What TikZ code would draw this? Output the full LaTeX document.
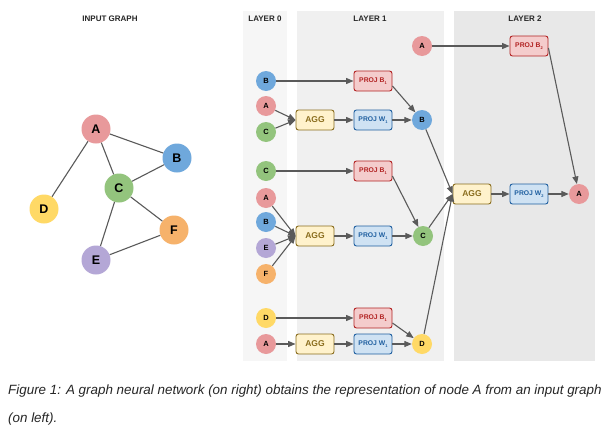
\documentclass[tikz,border=0pt]{standalone}
\usepackage{fontspec}
\setmainfont{Liberation Sans}
\usetikzlibrary{arrows.meta}
\definecolor{cA}{HTML}{E8999B}
\definecolor{cB}{HTML}{6FA8DC}
\definecolor{cC}{HTML}{93C47D}
\definecolor{cD}{HTML}{FFD966}
\definecolor{cE}{HTML}{B4A7D6}
\definecolor{cF}{HTML}{F6B26B}
\definecolor{bgzero}{HTML}{F6F6F6}
\definecolor{bgone}{HTML}{F0F0F0}
\definecolor{bgtwo}{HTML}{E8E8E8}
\definecolor{edgec}{HTML}{5A5A5A}
\definecolor{pbfill}{HTML}{F4CCCC}
\definecolor{pbdraw}{HTML}{B22222}
\definecolor{pwfill}{HTML}{CFE2F3}
\definecolor{pwdraw}{HTML}{1F5FA0}
\definecolor{agfill}{HTML}{FFF2CC}
\definecolor{agdraw}{HTML}{8A6D1E}
\newcommand{\sbx}[1]{\raisebox{-2pt}{\fontsize{4}{4}\selectfont #1}}
\begin{document}
\begin{tikzpicture}[x=1pt,y=-1pt,
  gnode/.style={circle,minimum size=29pt,inner sep=0pt,font=\bfseries\fontsize{12.5}{12.5}\selectfont},
  lnode/.style={circle,minimum size=20pt,inner sep=0pt,font=\bfseries\fontsize{7.5}{7.5}\selectfont},
  boxbase/.style={rounded corners=2.5pt,minimum width=38pt,minimum height=20pt,inner sep=0pt,line width=0.9pt},
  pbbox/.style={boxbase,fill=pbfill,draw=pbdraw,text=pbdraw,font=\bfseries\fontsize{6.8}{6.8}\selectfont},
  pwbox/.style={boxbase,fill=pwfill,draw=pwdraw,text=pwdraw,font=\bfseries\fontsize{6.8}{6.8}\selectfont},
  aggbox/.style={boxbase,fill=agfill,draw=agdraw,text=agdraw,font=\bfseries\fontsize{8.5}{8.5}\selectfont},
  title/.style={font=\bfseries\fontsize{8}{8}\selectfont,text=black!85},
  gedge/.style={draw=edgec,line width=1.1pt},
  arr/.style={draw=edgec,line width=1.1pt,-{Triangle[length=7.5pt,width=6pt]}}
]
\useasboundingbox (0,0) rectangle (616,434);
\fill[white] (0,0) rectangle (616,434);
\fill[bgzero] (243,11) rectangle (287,361);
\fill[bgone] (297,11) rectangle (444,361);
\fill[bgtwo] (454,11) rectangle (595,361);

\node[title] (t0) at (110,19) {INPUT GRAPH};
\node[title] (t1) at (265,19) {LAYER 0};
\node[title] (t2) at (370,19) {LAYER 1};
\node[title] (t3) at (525,19) {LAYER 2};

% input graph
\node[gnode,fill=cA] (gA) at (96,129) {A};
\node[gnode,fill=cB] (gB) at (177,158) {B};
\node[gnode,fill=cC] (gC) at (119,188) {C};
\node[gnode,fill=cD] (gD) at (44,209) {D};
\node[gnode,fill=cE] (gE) at (96,260) {E};
\node[gnode,fill=cF] (gF) at (174,230) {F};
\draw[gedge] (gA) -- (gD);
\draw[gedge] (gA) -- (gC);
\draw[gedge] (gA) -- (gB);
\draw[gedge] (gB) -- (gC);
\draw[gedge] (gC) -- (gF);
\draw[gedge] (gC) -- (gE);
\draw[gedge] (gE) -- (gF);

% layer 0
\node[lnode,fill=cB] (zb1) at (266,81) {B};
\node[lnode,fill=cA] (za1) at (266,106) {A};
\node[lnode,fill=cC] (zc1) at (266,132) {C};
\node[lnode,fill=cC] (zc2) at (266,171) {C};
\node[lnode,fill=cA] (za2) at (266,198) {A};
\node[lnode,fill=cB] (zb2) at (266,222) {B};
\node[lnode,fill=cE] (ze2) at (266,248) {E};
\node[lnode,fill=cF] (zf2) at (266,274) {F};
\node[lnode,fill=cD] (zd3) at (266,318) {D};
\node[lnode,fill=cA] (za3) at (266,344) {A};

% layer 1
\node[lnode,fill=cA] (oa) at (422,46) {A};
\node[pbbox] (pb1) at (373,81) {PROJ B\sbx{1}};
\node[aggbox] (ag1) at (315,120) {AGG};
\node[pwbox] (pw1) at (373,120) {PROJ W\sbx{1}};
\node[lnode,fill=cB] (ob) at (422,120) {B};
\node[pbbox] (pb2) at (373,171) {PROJ B\sbx{1}};
\node[aggbox] (ag2) at (315,236) {AGG};
\node[pwbox] (pw2) at (373,236) {PROJ W\sbx{1}};
\node[lnode,fill=cC] (oc) at (423,236) {C};
\node[pbbox] (pb3) at (373,318) {PROJ B\sbx{1}};
\node[aggbox] (ag3) at (315,344) {AGG};
\node[pwbox] (pw3) at (373,344) {PROJ W\sbx{1}};
\node[lnode,fill=cD] (od) at (422,344) {D};

% layer 2
\node[pbbox] (qb) at (529,46) {PROJ B\sbx{2}};
\node[aggbox] (qg) at (472,194) {AGG};
\node[pwbox] (qw) at (529,194) {PROJ W\sbx{2}};
\node[lnode,fill=cA] (qa) at (579,194) {A};

% edges layer 0 -> 1
\draw[arr] (zb1) -- (pb1.west);
\draw[arr] (za1) -- (ag1.west);
\draw[arr] (zc1) -- (ag1.west);
\draw[arr] (ag1) -- (pw1);
\draw[arr] (pw1) -- (ob);
\draw[arr] ([yshift=-5pt]pb1.east) -- (ob);

\draw[arr] (zc2) -- (pb2.west);
\draw[arr] (za2) -- (ag2.west);
\draw[arr] (zb2) -- (ag2.west);
\draw[arr] (ze2) -- (ag2.west);
\draw[arr] (zf2) -- (ag2.west);
\draw[arr] (ag2) -- (pw2);
\draw[arr] (pw2) -- (oc);
\draw[arr] ([yshift=-5pt]pb2.east) -- (oc);

\draw[arr] (zd3) -- (pb3.west);
\draw[arr] (za3) -- (ag3);
\draw[arr] (ag3) -- (pw3);
\draw[arr] (pw3) -- (od);
\draw[arr] ([yshift=-5pt]pb3.east) -- (od);

% edges layer 1 -> 2
\draw[arr] (oa) -- (qb.west);
\draw[arr] (ob) -- (qg.west);
\draw[arr] (oc) -- (qg.west);
\draw[arr] (od) -- (qg.west);
\draw[arr] (qg) -- (qw);
\draw[arr] (qw) -- (qa);
\draw[arr] ([yshift=-2pt]qb.east) -- (qa);

% caption
\node[anchor=west,inner sep=0pt,font=\itshape\fontsize{13.4}{13.4}\selectfont,text=black!85] (cap1) at (8,391) {Figure 1: A graph neural network (on right) obtains the representation of node A from an input graph};
\node[anchor=west,inner sep=0pt,font=\itshape\fontsize{13.4}{13.4}\selectfont,text=black!85] (cap2) at (8,419) {(on left).};
\end{tikzpicture}
\end{document}
